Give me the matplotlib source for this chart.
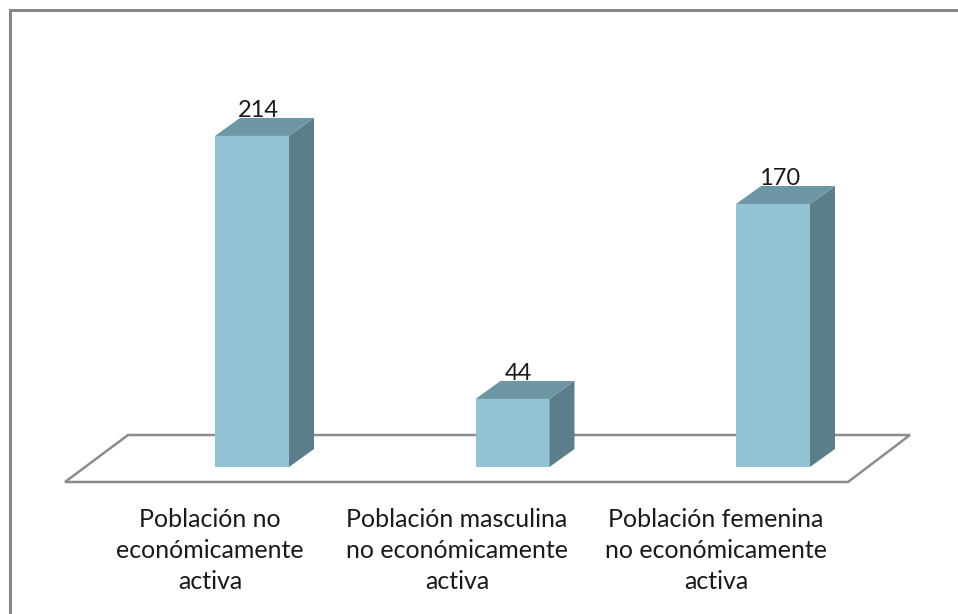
import matplotlib

matplotlib.use("Agg")
import matplotlib.pyplot as plt
from matplotlib.patches import Polygon
from matplotlib.lines import Line2D

categories = [
    "Población no\neconómicamente\nactiva",
    "Población masculina\nno económicamente\nactiva",
    "Población femenina\nno económicamente\nactiva",
]
values = [214, 44, 170]

FRONT = "#93C4D6"
TOP = "#6E97A6"
SIDE = "#5B7E8A"
FLOOR = "#8C8C8C"
TEXT = "#1a1a1a"
FONT = "Lato"

W, H = 958, 614
fig = plt.figure(figsize=(W / 100, H / 100), dpi=100)
ax = fig.add_axes([0, 0, 1, 1])

# pixel mapping: category spacing 260.5 px, 1 unit of value = 1.547 px
px_x, x0 = 260.5, 252.0
px_y, y0 = 1.547, 614 - 467
ax.set_xlim(-x0 / px_x, (W - x0) / px_x)
ax.set_ylim(-y0 / px_y, (H - y0) / px_y)
ax.axis("off")

half_w = 37 / px_x
dx, dy = 25 / px_x, 18 / px_y

# floor
floor_front, floor_back = -15 / px_y, 32 / px_y
fl, fr = (65 - x0) / px_x, (848 - x0) / px_x
bl, br = (128 - x0) / px_x, (910 - x0) / px_x
ax.add_patch(Polygon([(fl, floor_front), (fr, floor_front), (br, floor_back), (bl, floor_back)],
                     closed=True, facecolor="none", edgecolor=FLOOR, linewidth=1.8, zorder=1))

for i, v in enumerate(values):
    l, r = i - half_w, i + half_w
    ax.add_patch(Polygon([(l, 0), (r, 0), (r, v), (l, v)], closed=True,
                         facecolor=FRONT, edgecolor="none", zorder=3))
    ax.add_patch(Polygon([(r, 0), (r + dx, dy), (r + dx, v + dy), (r, v)], closed=True,
                         facecolor=SIDE, edgecolor="none", zorder=3))
    ax.add_patch(Polygon([(l, v), (r, v), (r + dx, v + dy), (l + dx, v + dy)], closed=True,
                         facecolor=TOP, edgecolor="none", zorder=3))
    ax.text(i + dx * 0.25, v + dy + 0.6, str(v), ha="center", va="baseline",
            fontsize=17, color=TEXT, family=FONT, zorder=4)

# category labels sit below the floor, as the wrapped Excel labels do
label_px = [210, 457, 716]
for c, lx in zip(categories, label_px):
    ax.text((lx - x0) / px_x, -(508 - 467) / px_y, c, ha="center", va="top",
            fontsize=18, color=TEXT, family=FONT, linespacing=1.42)

# chart border (top and left visible)
fig.add_artist(Line2D([9.5 / W, 9.5 / W], [0, 1 - 9.5 / H], transform=fig.transFigure,
                      color="#868686", linewidth=2.2))
fig.add_artist(Line2D([9.5 / W, 1], [1 - 9.5 / H, 1 - 9.5 / H], transform=fig.transFigure,
                      color="#868686", linewidth=2.2))

fig.savefig("out.png", dpi=100)
